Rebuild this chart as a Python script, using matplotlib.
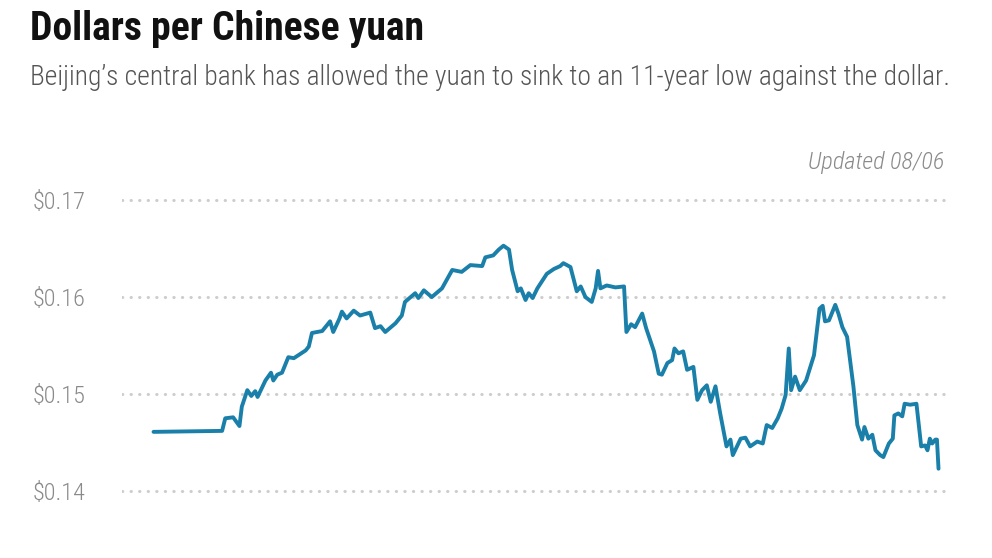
import matplotlib
matplotlib.use('Agg')
import matplotlib.pyplot as plt
from matplotlib.ticker import FixedLocator, FuncFormatter

# Decimal years and dollars per yuan
years = [2009.64, 2010.51, 2010.55, 2010.65, 2010.73, 2010.76, 2010.83, 2010.88,
         2010.93, 2010.96, 2011.06, 2011.13, 2011.16, 2011.21, 2011.27, 2011.35,
         2011.42, 2011.57, 2011.61, 2011.65, 2011.78, 2011.88, 2011.92, 2012.00,
         2012.03, 2012.09, 2012.18, 2012.26, 2012.39, 2012.45, 2012.52, 2012.58,
         2012.71, 2012.79, 2012.83, 2012.96, 2013.00, 2013.07, 2013.17, 2013.30,
         2013.43, 2013.55, 2013.66, 2013.81, 2013.85, 2013.95, 2014.02, 2014.08,
         2014.15, 2014.19, 2014.26, 2014.30, 2014.36, 2014.40, 2014.45, 2014.51,
         2014.63, 2014.72, 2014.80, 2014.84, 2014.93, 2015.01, 2015.06, 2015.12,
         2015.20, 2015.25, 2015.28, 2015.31, 2015.39, 2015.50, 2015.61, 2015.64,
         2015.70, 2015.75, 2015.84, 2015.89, 2015.99, 2016.05, 2016.09, 2016.16,
         2016.22, 2016.25, 2016.30, 2016.36, 2016.41, 2016.49, 2016.54, 2016.60,
         2016.66, 2016.71, 2016.77, 2016.83, 2016.91, 2016.96, 2016.99, 2017.09,
         2017.15, 2017.21, 2017.30, 2017.37, 2017.42, 2017.49, 2017.56, 2017.61,
         2017.66, 2017.70, 2017.73, 2017.78, 2017.84, 2017.92, 2018.02, 2018.09,
         2018.13, 2018.16, 2018.21, 2018.29, 2018.33, 2018.38, 2018.44, 2018.52,
         2018.57, 2018.63, 2018.66, 2018.71, 2018.76, 2018.80, 2018.86, 2018.90,
         2018.97, 2019.02, 2019.04, 2019.09, 2019.14, 2019.17, 2019.24, 2019.32,
         2019.38, 2019.43, 2019.46, 2019.49, 2019.52, 2019.56, 2019.58, 2019.60]
usd_per_cny = [0.1461, 0.1462, 0.1475, 0.1476, 0.1467, 0.1487, 0.1504, 0.1498,
               0.1503, 0.1497, 0.1514, 0.1522, 0.1514, 0.1520, 0.1522, 0.1538,
               0.1537, 0.1545, 0.1549, 0.1563, 0.1565, 0.1575, 0.1564, 0.1578,
               0.1585, 0.1578, 0.1586, 0.1581, 0.1584, 0.1568, 0.1570, 0.1564,
               0.1573, 0.1581, 0.1595, 0.1604, 0.1599, 0.1607, 0.1600, 0.1609,
               0.1628, 0.1626, 0.1633, 0.1632, 0.1641, 0.1643, 0.1649, 0.1653,
               0.1649, 0.1628, 0.1606, 0.1609, 0.1597, 0.1604, 0.1599, 0.1609,
               0.1624, 0.1629, 0.1632, 0.1635, 0.1631, 0.1606, 0.1611, 0.1600,
               0.1595, 0.1609, 0.1627, 0.1609, 0.1612, 0.1610, 0.1611, 0.1564,
               0.1572, 0.1569, 0.1583, 0.1568, 0.1544, 0.1521, 0.1520, 0.1532,
               0.1535, 0.1547, 0.1542, 0.1544, 0.1525, 0.1528, 0.1494, 0.1504,
               0.1509, 0.1492, 0.1508, 0.1480, 0.1446, 0.1453, 0.1437, 0.1454,
               0.1455, 0.1446, 0.1451, 0.1449, 0.1468, 0.1465, 0.1475, 0.1485,
               0.1499, 0.1547, 0.1504, 0.1518, 0.1504, 0.1514, 0.1540, 0.1588,
               0.1591, 0.1575, 0.1576, 0.1592, 0.1583, 0.1569, 0.1559, 0.1508,
               0.1468, 0.1453, 0.1466, 0.1454, 0.1458, 0.1442, 0.1437, 0.1435,
               0.1449, 0.1454, 0.1478, 0.1480, 0.1477, 0.1490, 0.1489, 0.1490,
               0.1446, 0.1447, 0.1442, 0.1454, 0.1449, 0.1453, 0.1453, 0.1423]

y_ticks = [0.14, 0.15, 0.16, 0.17]

title = 'Dollars per Chinese yuan'
subtitle = 'Beijing\u2019s central bank has allowed the yuan to sink to an 11-year low against the dollar.'
note = 'Updated 08/06'

# condensed face first, fall back to the stock fonts
narrow = ['Roboto Condensed', 'Liberation Sans Narrow', 'DejaVu Sans']

fig = plt.figure(figsize=(9.92, 5.58), dpi=100)
ax = fig.add_axes([0.123, 0.1027, 0.835, 0.556])

ax.plot(years, usd_per_cny, color='#1a80a9', linewidth=2.8,
        solid_joinstyle='round', solid_capstyle='round', zorder=3)

ax.set_xlim(2009.24, 2019.75)
ax.set_ylim(0.139, 0.171)
ax.yaxis.set_major_locator(FixedLocator(y_ticks))
ax.yaxis.set_major_formatter(FuncFormatter(lambda v, p: f'${v:.2f}'))
ax.set_xticks([])
for s in ax.spines.values():
    s.set_visible(False)
ax.tick_params(axis='y', length=0, pad=26, labelcolor='#8a8a8a')
for lbl in ax.get_yticklabels():
    lbl.set_fontfamily(narrow)
    lbl.set_fontweight(300)
    lbl.set_fontsize(17.5)
ax.grid(axis='y', color='#cdcdcd', linewidth=2.2, linestyle=(0, (0.1, 2.7)),
        dash_capstyle='round')
ax.set_axisbelow(True)

fig.text(0.030, 0.928, title, family=narrow, fontweight='bold', fontsize=28.5,
         color='#111111', va='baseline')
fig.text(0.030, 0.847, subtitle, family=narrow, fontweight=300, fontsize=19.8,
         color='#555555', va='baseline')
fig.text(0.952, 0.697, note, family=narrow, fontstyle='italic', fontweight=300,
         fontsize=17.5, color='#8a8a8a', ha='right', va='baseline')

fig.savefig('out.png', dpi=100)
